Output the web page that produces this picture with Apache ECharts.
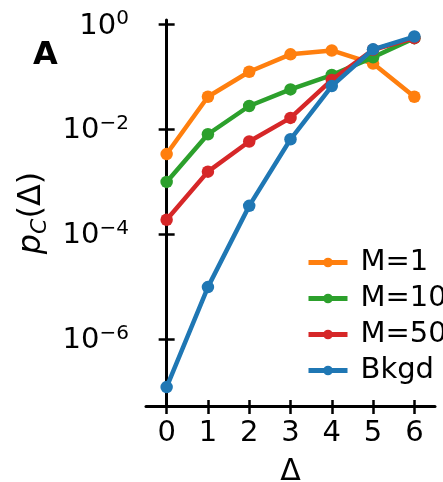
<!DOCTYPE html>
<html>
<head>
<meta charset="utf-8">
<script src="https://cdn.jsdelivr.net/npm/echarts@6/dist/echarts.min.js"></script>
<style>
  html, body { margin: 0; padding: 0; background: #fff; }
  #chart { width: 443px; height: 482px; }
</style>
</head>
<body>
<div id="chart"></div>
<script>
// Shift Δ on the x axis
const deltas = [0, 1, 2, 3, 4, 5, 6];

// p_C(Δ) for each condition
const seriesNames = ['M=1', 'M=10', 'M=50', 'Bkgd'];
const pM1   = [3.4e-3, 0.042, 0.126, 0.27, 0.32, 0.18, 0.042];
const pM10  = [1.0e-3, 8.1e-3, 0.028, 0.058, 0.109, 0.237, 0.55];
const pM50  = [1.9e-4, 1.57e-3, 5.9e-3, 0.0166, 0.088, 0.33, 0.55];
const pBkgd = [1.23e-7, 9.9e-6, 3.5e-4, 6.5e-3, 0.067, 0.337, 0.59];

// tick positions
const xTicks = [0, 1, 2, 3, 4, 5, 6];
const yTicks = [1e-6, 1e-4, 1e-2, 1];

const colors = ['#ff7f0e', '#2ca02c', '#d62728', '#1f77b4'];
const values = [pM1, pM10, pM50, pBkgd];

const FONT = 'DejaVu Sans';
const Y_MIN = Math.pow(10, -7.27);
const Y_MAX = Math.pow(10, 0.086);

function supLabel(v) {
  const e = Math.round(Math.log10(v));
  const s = e < 0 ? '\u2212' + (-e) : String(e);
  return '{b|10}{s|' + s + '}';
}

const chart = echarts.init(document.getElementById('chart'), null, { renderer: 'canvas' });

const axisLineStyle = { color: '#000', width: 3 };
const tickStyle = { color: '#000', width: 2.5 };

chart.setOption({
  animation: false,
  backgroundColor: '#fff',
  textStyle: { fontFamily: FONT },
  grid: { left: 146, right: 8, top: 20, bottom: 76, outerBoundsMode: 'none', containLabel: false },
  xAxis: [{
    type: 'value', min: -0.5, max: 6.5,
    axisLine: { lineStyle: axisLineStyle },
    axisTick: { show: true, length: 8, lineStyle: tickStyle, customValues: xTicks },
    axisLabel: { customValues: xTicks, color: '#000', fontSize: 29, fontFamily: FONT, margin: 13 },
    splitLine: { show: false },
    name: 'Δ', nameLocation: 'middle', nameGap: 51,
    nameTextStyle: { fontSize: 30, color: '#000', fontFamily: FONT }
  }, {
    type: 'value', min: -0.5, max: 6.5, position: 'bottom',
    axisLine: { show: false },
    axisTick: { show: true, inside: true, length: 6, lineStyle: tickStyle, customValues: xTicks },
    axisLabel: { show: false },
    splitLine: { show: false }
  }],
  yAxis: [{
    type: 'log', logBase: 10, min: Y_MIN, max: Y_MAX,
    axisLine: { show: true, lineStyle: axisLineStyle },
    axisTick: { show: true, length: 8, lineStyle: tickStyle, customValues: yTicks },
    axisLabel: {
      customValues: yTicks, margin: 17, color: '#000', fontFamily: FONT,
      formatter: supLabel,
      rich: {
        b: { fontSize: 29, fontFamily: FONT, color: '#000', lineHeight: 32, verticalAlign: 'bottom' },
        s: { fontSize: 20, fontFamily: FONT, color: '#000', lineHeight: 20, verticalAlign: 'top' }
      }
    },
    splitLine: { show: false },
    name: '{p|p}{c|C}{n|(Δ)}', nameLocation: 'middle', nameGap: 93, nameRotate: 90,
    nameTextStyle: {
      color: '#000',
      rich: {
        p: { fontSize: 32, fontStyle: 'italic', fontFamily: FONT, color: '#000', lineHeight: 38, verticalAlign: 'top', padding: [2, 0, 0, 0] },
        c: { fontSize: 22, fontStyle: 'italic', fontFamily: FONT, color: '#000', lineHeight: 38, verticalAlign: 'bottom' },
        n: { fontSize: 32, fontFamily: FONT, color: '#000', lineHeight: 38, verticalAlign: 'top', padding: [2, 0, 0, 0] }
      }
    }
  }, {
    type: 'log', logBase: 10, min: Y_MIN, max: Y_MAX, position: 'left',
    axisLine: { show: false },
    axisTick: { show: true, inside: true, length: 8, lineStyle: tickStyle, customValues: yTicks },
    axisLabel: { show: false },
    splitLine: { show: false }
  }],
  legend: {
    left: 306, top: 248, orient: 'vertical', padding: 0,
    itemWidth: 39, itemHeight: 12, itemGap: 7,
    lineStyle: { width: 5 },
    textStyle: { fontSize: 29, fontFamily: FONT, color: '#000', lineHeight: 29, padding: [0, 0, 0, 8] },
    data: seriesNames
  },
  graphic: [{
    type: 'text', left: 33, top: 40,
    style: { text: 'A', font: 'bold 32px "DejaVu Sans"', fill: '#000' }
  }],
  series: seriesNames.map((name, i) => ({
    name: name,
    type: 'line',
    data: deltas.map((d, j) => [d, values[i][j]]),
    symbol: 'circle', symbolSize: 12.5,
    lineStyle: { width: 4.5, color: colors[i] },
    itemStyle: { color: colors[i] },
    z: 2 + i
  }))
});
</script>
</body>
</html>
